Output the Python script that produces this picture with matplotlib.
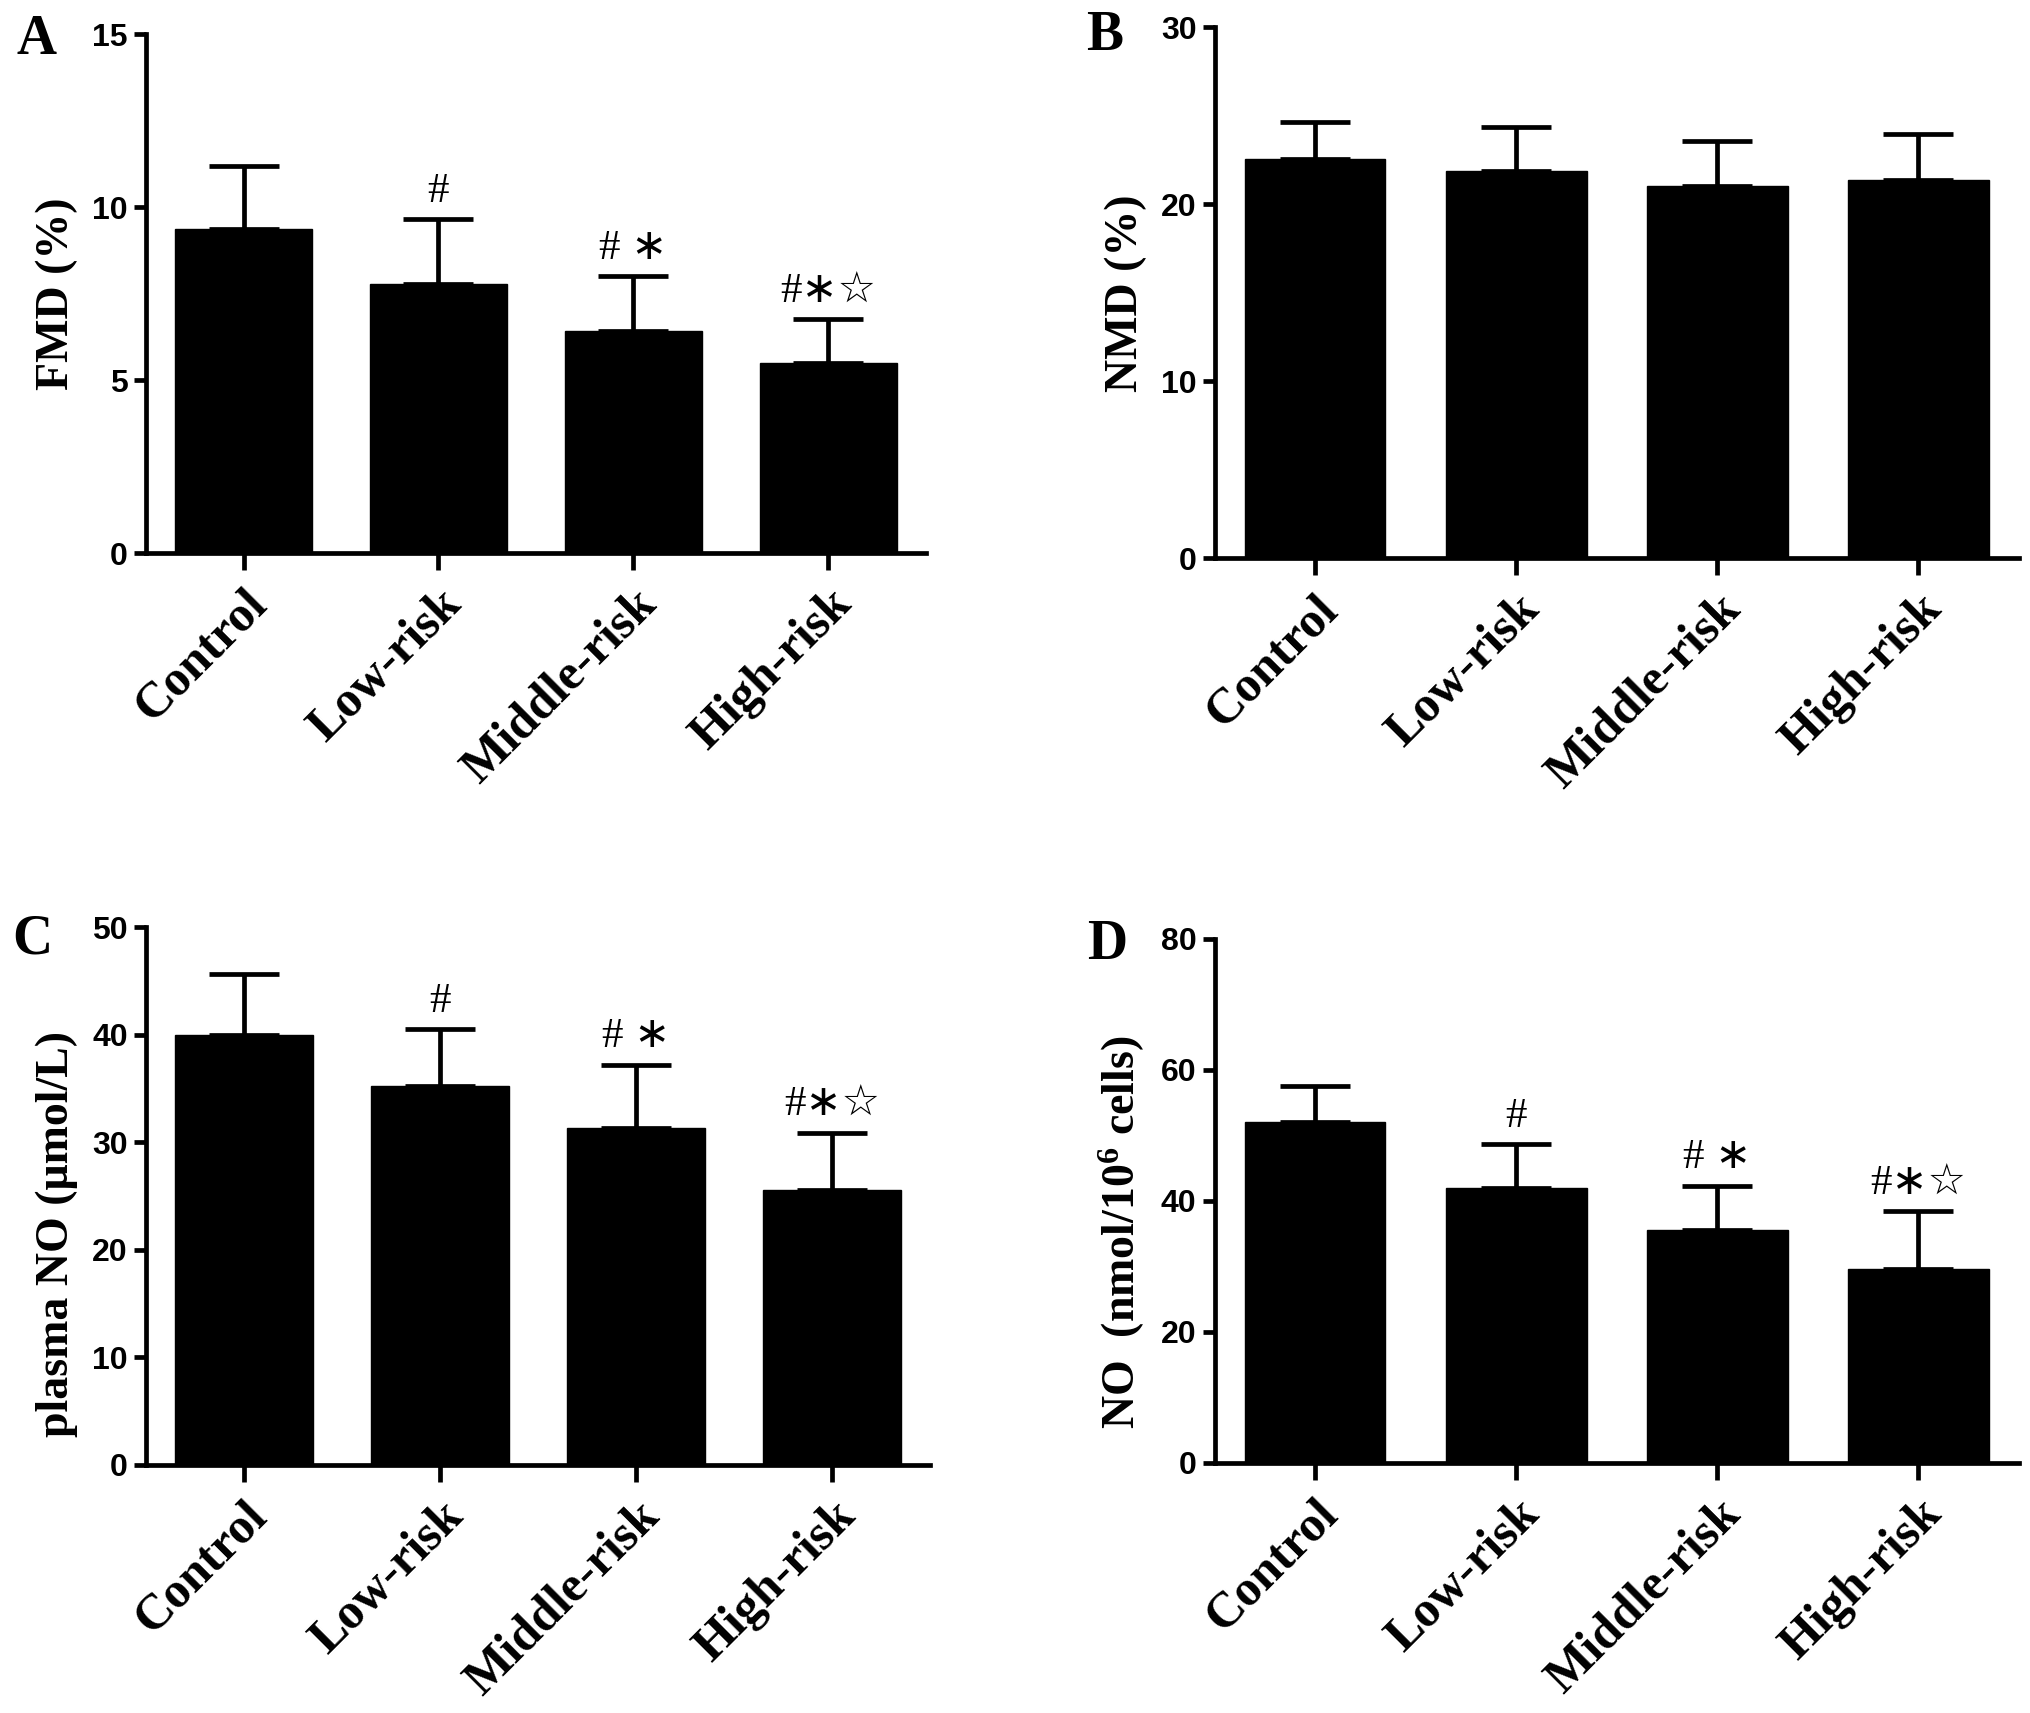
import matplotlib

matplotlib.use("Agg")
import matplotlib.pyplot as plt
import matplotlib.transforms as mtransforms
import numpy as np

plt.rcParams["mathtext.fontset"] = "custom"
plt.rcParams["mathtext.rm"] = "Liberation Serif:bold"
plt.rcParams["mathtext.bf"] = "Liberation Serif:bold"
plt.rcParams["mathtext.default"] = "rm"

groups = ["Control", "Low-risk", "Middle-risk", "High-risk"]

fmd_mean = [9.37, 7.79, 6.43, 5.50]
fmd_upper = [11.2, 9.66, 8.0, 6.76]

nmd_mean = [22.55, 21.9, 21.05, 21.4]
nmd_upper = [24.66, 24.37, 23.56, 24.0]

plasma_no_mean = [39.95, 35.2, 31.3, 25.6]
plasma_no_upper = [45.6, 40.5, 37.2, 30.9]

cell_no_mean = [52.1, 41.9, 35.6, 29.6]
cell_no_upper = [57.5, 48.6, 42.3, 38.5]

marks = ["", "#", "# \u2217", "#\u2217\u2606"]
no_marks = ["", "", "", ""]

W, H = 2031, 1713
fig = plt.figure(figsize=(W / 100, H / 100), dpi=100)

serif = ["Liberation Serif", "DejaVu Serif"]
tickfont = ["Liberation Sans", "DejaVu Sans"]


def panel(rect, means, upper, yticks, ylabel, label_y, letter, letter_xy, sig):
    ax = fig.add_axes(rect)
    x = np.arange(len(groups))
    means = np.asarray(means)
    err = np.asarray(upper) - means
    ax.bar(x, means, width=0.7, color="black", edgecolor="black", zorder=2)
    ax.errorbar(x, means, yerr=[np.zeros_like(err), err], fmt="none",
                ecolor="black", elinewidth=3.4, capsize=25, capthick=3.4, zorder=1)
    top = yticks[-1]
    for xi, up, s in zip(x, upper, sig):
        if s:
            ax.text(xi, up + top * 0.016, s, ha="center", va="bottom",
                    fontsize=31, family=["Liberation Serif", "DejaVu Sans"])
    ax.set_xlim(-0.5, 3.5)
    ax.set_ylim(0, top)
    ax.set_yticks(yticks)
    ax.set_xticks(x)
    ax.set_xticklabels(groups, rotation=45, ha="right", rotation_mode="anchor",
                       fontsize=36, fontweight="bold", family=serif)
    shift = mtransforms.ScaledTranslation(-6 / 72, -3 / 72, fig.dpi_scale_trans)
    for lab in ax.get_xticklabels():
        lab.set_transform(lab.get_transform() + shift)
    for lab in ax.get_yticklabels():
        lab.set_fontsize(23)
        lab.set_fontweight("bold")
        lab.set_family(tickfont)
    ax.spines["top"].set_visible(False)
    ax.spines["right"].set_visible(False)
    ax.spines["left"].set_linewidth(3.4)
    ax.spines["bottom"].set_linewidth(3.4)
    ax.tick_params(axis="x", length=12, width=3.4, pad=8)
    ax.tick_params(axis="y", length=9, width=3.4, pad=4)
    ax.set_ylabel(ylabel, fontsize=33, fontweight="bold", family=serif, labelpad=10)
    ax.yaxis.label.set_y(label_y)
    fig.text(letter_xy[0] / W, 1 - letter_xy[1] / H, letter, fontsize=40,
             fontweight="bold", family=serif, ha="center", va="center")
    return ax


panel([0.0719, 0.677, 0.384, 0.303], fmd_mean, fmd_upper, [0, 5, 10, 15],
      "FMD (%)", 0.5, "A", (37, 40), marks)
panel([0.598, 0.674, 0.396, 0.310], nmd_mean, nmd_upper, [0, 10, 20, 30],
      "NMD (%)", 0.5, "B", (1105, 36), no_marks)
panel([0.0719, 0.1448, 0.386, 0.314], plasma_no_mean, plasma_no_upper,
      [0, 10, 20, 30, 40, 50], "plasma NO (\u03bcmol/L)", 0.43, "C", (32, 940), marks)
panel([0.598, 0.146, 0.396, 0.306], cell_no_mean, cell_no_upper,
      [0, 20, 40, 60, 80], "NO  (nmol/10$^{6}$ cells)", 0.44, "D", (1107, 945), marks)

fig.savefig("out.png", dpi=100)
plt.close(fig)
